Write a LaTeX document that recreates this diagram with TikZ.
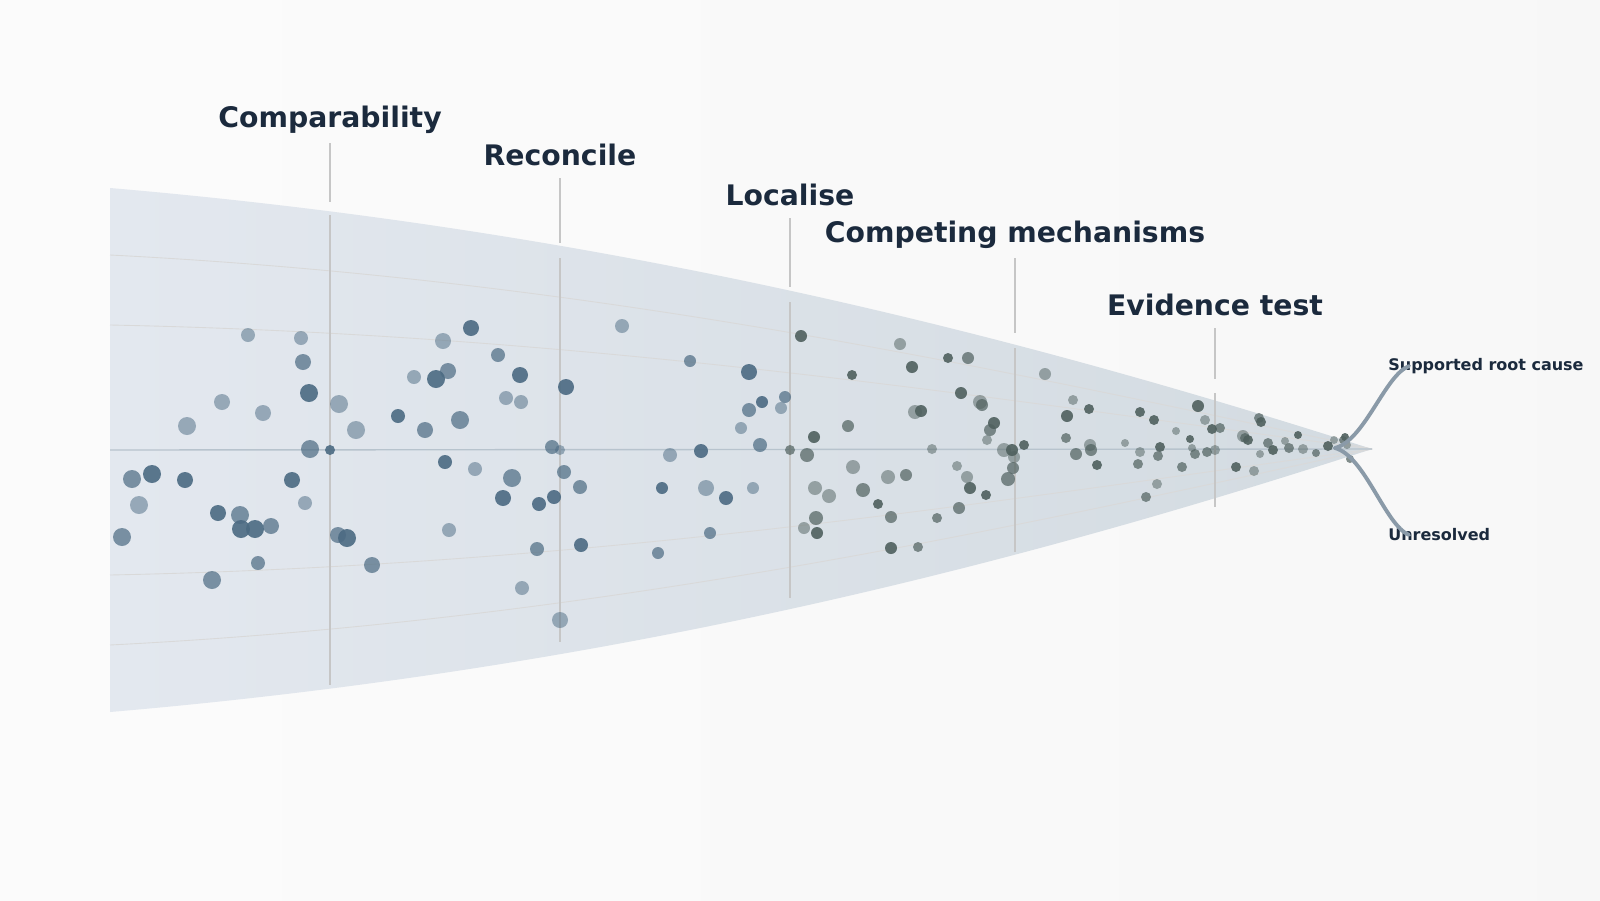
\documentclass[tikz,border=0pt]{standalone}
\usepackage{fontspec}
\setmainfont{DejaVu Sans}
\usetikzlibrary{positioning}
\definecolor{navy}{HTML}{1B2A3D}
\definecolor{slate}{HTML}{4B6A82}
\definecolor{moss}{HTML}{4F605E}
\definecolor{funnelL}{HTML}{E3E8EF}
\definecolor{funnelR}{HTML}{D3DBE1}
\definecolor{exitgray}{HTML}{8A9AA8}
\tikzset{
	stage/.style={font=\fontsize{16.1}{19}\selectfont\bfseries, text=navy}, % stage titles
	outcome/.style={font=\fontsize{9.1}{11}\selectfont\bfseries, text=navy, anchor=west, inner sep=0pt},
	marker/.style={draw=gray!45, line width=0.6pt}, % vertical stage lines
	guide/.style={draw=gray!30, line width=0.5pt},
	exit/.style={draw=exitgray, line width=2.2pt, line cap=round},
}
\begin{document}
\begin{tikzpicture}[x=0.02cm, y=-0.02cm]
	\shade[left color=white!97!gray, right color=gray!6] (0,0) rectangle (1600,900);
	\useasboundingbox (0,0) rectangle (1600,900);
	% funnel
	\coordinate (tip) at (1372,449);
	\shade[left color=funnelL, right color=funnelR]
		(110,188) .. controls (600,230) and (1000,330) .. (tip)
		.. controls (1000,570) and (600,670) .. (110,712) -- cycle;
	\draw[guide] (110,255) .. controls (600,280) and (1000,370) .. (tip);
	\draw[guide] (110,325) .. controls (600,335) and (1000,400) .. (tip);
	\draw[guide] (110,575) .. controls (600,565) and (1000,500) .. (tip);
	\draw[guide] (110,645) .. controls (600,620) and (1000,530) .. (tip);
	\draw[draw=slate!40, line width=0.8pt] (110,450) -- (tip);
	% stages
	\foreach \x/\a/\b/\t/\ta/\name/\txt/\ly in {
		330/215/685/143/202/comp/Comparability/120,
		560/258/642/178/243/reco/Reconcile/155,
		790/302/598/218/287/loca/Localise/195,
		1015/348/552/258/333/mech/Competing mechanisms/235,
		1215/393/507/328/379/evid/Evidence test/305}{
		\draw[marker] (\x,\a) -- (\x,\b);
		\draw[marker] (\x,\t) -- (\x,\ta);
		\node[stage] (\name) at (\x,\ly) {\txt};
	}
	% evidence dots
	\foreach \x/\y/\r [count=\i] in {132/479/9,152/474/9,139/505/9,122/537/9,185/480/8,187/426/9,212/580/9,218/513/8,222/402/8,240/515/9,241/529/9,248/335/7,258/563/7,255/529/9,263/413/8,271/526/8,292/480/8,301/338/7,303/362/8,309/393/9,305/503/7,310/449/9,330/450/5,339/404/9,338/535/8,347/538/9,356/430/9,372/565/8,
		398/416/7,414/377/7,425/430/8,436/379/9,443/341/8,448/371/8,445/462/7,449/530/7,460/420/9,471/328/8,475/469/7,498/355/7,503/498/8,506/398/7,512/478/9,520/375/8,521/402/7,537/549/7,539/504/7,522/588/7,552/447/7,554/497/7,560/450/5,564/472/7,566/387/8,560/620/8,580/487/7,581/545/7,
		622/326/7,658/553/6,662/488/6,670/455/7,690/361/6,701/451/7,706/488/8,710/533/6,726/498/7,741/428/6,749/410/7,749/372/8,753/488/6,760/445/7,762/402/6,781/408/6,785/397/6}
		{\pgfmathsetmacro{\op}{0.5+0.2*mod(\i,3)}
		 \fill[slate, opacity=\op] (\x,\y) circle[radius=\r];}
	\foreach \x/\y/\r [count=\i] in {790/450/5,801/336/6,804/528/6,807/455/7,814/437/6,815/488/7,816/518/7,817/533/6,829/496/7,848/426/6,852/375/5,853/467/7,863/490/7,878/504/5,888/477/7,891/517/6,891/548/6,900/344/6,906/475/6,912/367/6,915/412/7,918/547/5,921/411/6,932/449/5,937/518/5,948/358/5,957/466/5,959/508/6,961/393/6,967/477/6,968/358/6,970/488/6,980/402/7,982/405/6,986/495/5,987/440/5,990/430/6,994/423/6,1004/450/7,1008/479/7,1012/450/6,1014/457/6,1013/468/6,1024/445/5,
		1045/374/6,1066/438/5,1067/416/6,1073/400/5,1076/454/6,1089/409/5,1090/445/6,1091/450/6,1097/465/5,1125/443/4,1138/464/5,1140/412/5,1140/452/5,1146/497/5,1154/420/5,1157/484/5,1158/456/5,1160/447/5,1176/431/4,1182/467/5,1190/439/4,1192/448/4,1195/454/5,1198/406/6,1205/420/5,1207/452/5,1212/429/5,1215/450/5,1220/428/5,1236/467/5,1243/436/6,1245/438/5,1248/440/5,1254/471/5,1259/418/5,1261/422/5,1260/454/4,1268/443/5,1273/450/5,1285/441/4,1289/448/5,1298/435/4,1303/449/5,1316/453/4,1328/446/5,1334/440/4,1343/440/4,1345/437/4,1347/445/4,1350/459/4}
		{\pgfmathsetmacro{\op}{0.5+0.2*mod(\i,3)}
		 \fill[moss, opacity=\op] (\x,\y) circle[radius=\r];}
	% outcomes
	\coordinate (split) at (1335,448);
	\node[outcome] (root) at (1388,366) {Supported root cause};
	\node[outcome] (unres) at (1388,535) {Unresolved};
	\draw[exit] (split) .. controls (1365,440) and (1385,375) .. ([xshift=12]root.west);
	\draw[exit] (split) .. controls (1365,456) and (1385,525) .. ([xshift=12]unres.west);
\end{tikzpicture}
\end{document}
